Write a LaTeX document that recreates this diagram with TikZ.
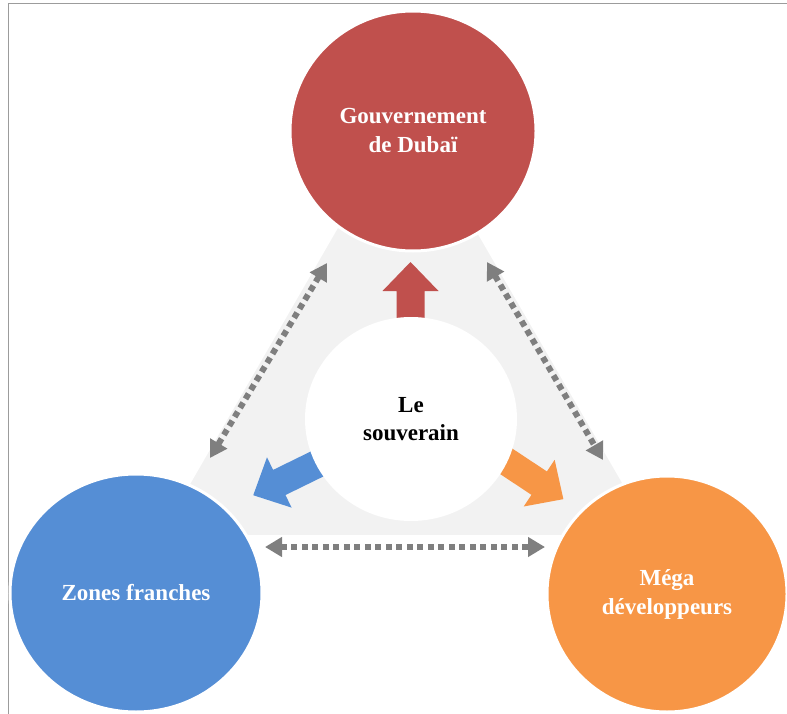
\documentclass[tikz,border=0pt]{standalone}
\usepackage{fontspec}
\setmainfont{Liberation Serif}
\usetikzlibrary{shapes.geometric,arrows.meta}
\definecolor{govred}{HTML}{C0504D}
\definecolor{zoneblue}{HTML}{558ED5}
\definecolor{megaorange}{HTML}{F79646}
\definecolor{bggray}{HTML}{F2F2F2}
\definecolor{dotgray}{HTML}{7F7F7F}
\definecolor{framegray}{HTML}{9C9C9C}
\begin{document}
\begin{tikzpicture}[x=1pt,y=-1pt,
  bubble/.style={ellipse, inner sep=0pt, draw=white, line width=3pt, text=white,
    font=\fontsize{23}{29}\selectfont\bfseries, align=center},
  centerbubble/.style={ellipse, inner sep=0pt, fill=white, text=black,
    font=\fontsize{23}{28}\selectfont\bfseries, align=center},
  dotarrow/.style={draw=dotgray, line width=6pt, dash pattern=on 6pt off 4.5pt,
    {Triangle[length=17pt,width=19pt]}-{Triangle[length=17pt,width=19pt]}}]
\useasboundingbox (0,0) rectangle (787,714);
% frame
\draw[framegray, line width=1pt] (8,714) -- (8,3.3) -- (787,3.3);
% background triangle
\coordinate (t1) at (406,108);
\coordinate (t2) at (159,536);
\coordinate (t3) at (654,536);
\filldraw[fill=bggray, draw=white, line width=2pt] (t1) -- (t2) -- (t3) -- cycle;
% outer circles
\node[bubble, fill=govred, minimum width=246pt, minimum height=240pt] (gov) at (413,131) {\raisebox{-3pt}{Gouvernement}\\\raisebox{-3pt}{de Dubaï}};
\node[bubble, fill=zoneblue, minimum width=252pt, minimum height=238pt] (zones) at (136,593) {Zones franches};
\node[bubble, fill=megaorange, minimum width=240pt, minimum height=236pt] (mega) at (667,594) {Méga\\développeurs};
% block arrows
\begin{scope}[shift={(410.5,322)}, rotate=90]
  \fill[govred] (0,-14) -- (31,-14) -- (31,-28) -- (60,0) -- (31,28) -- (31,14) -- (0,14) -- cycle;
\end{scope}
\begin{scope}[shift={(321.5,461.8)}, rotate=-153.9]
  \fill[zoneblue] (0,-14) -- (47,-14) -- (47,-28) -- (76,0) -- (47,28) -- (47,14) -- (0,14) -- cycle;
\end{scope}
\begin{scope}[shift={(500,457.2)}, rotate=-33.5]
  \fill[megaorange] (0,-14) -- (47,-14) -- (47,-28) -- (76,0) -- (47,28) -- (47,14) -- (0,14) -- cycle;
\end{scope}
% center circle
\node[centerbubble, minimum width=212pt, minimum height=204pt] (sov) at (411,419) {Le\\souverain};
% dotted double arrows
\coordinate (a1) at (327,263);
\coordinate (a2) at (210,458);
\coordinate (b1) at (487,262);
\coordinate (b2) at (603,460);
\coordinate (c1) at (265,547);
\coordinate (c2) at (545,547);
\draw[dotarrow] (a1) -- (a2);
\draw[dotarrow] (b1) -- (b2);
\draw[dotarrow] (c1) -- (c2);
\end{tikzpicture}
\end{document}
